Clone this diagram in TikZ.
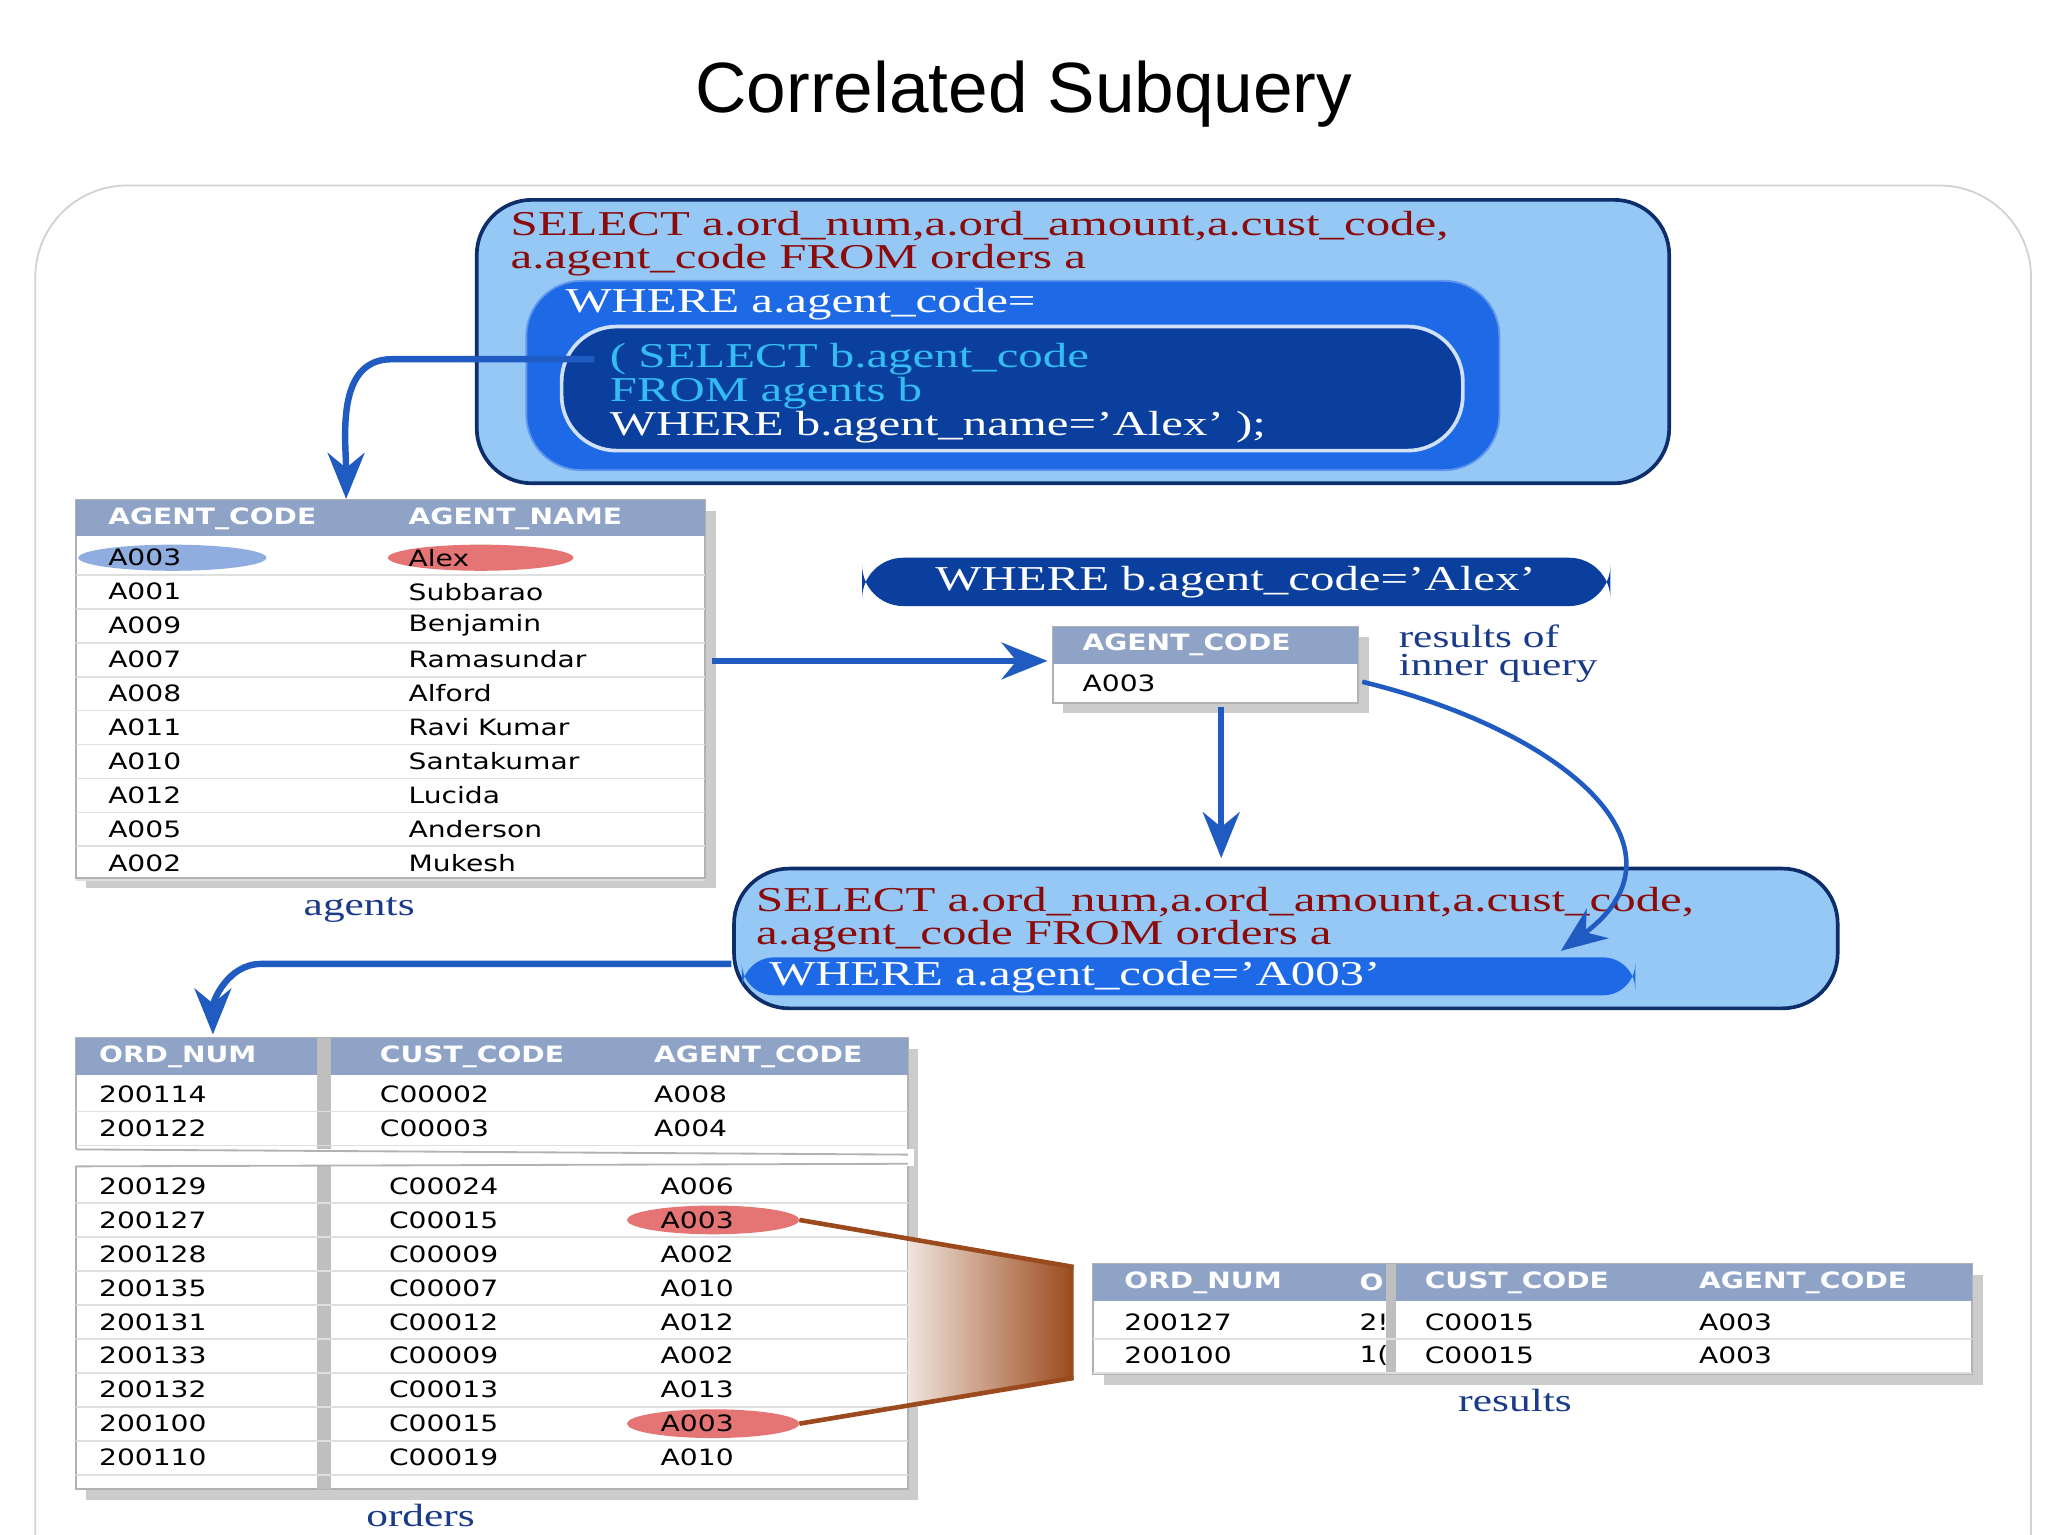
\documentclass[tikz,border=0pt]{standalone}
\usepackage{fontspec}
\setmainfont{Liberation Serif}
\newfontfamily\titlefont{Liberation Sans}
\newfontfamily\tabfont{DejaVu Sans}
\usetikzlibrary{arrows.meta,shadows}
\definecolor{lb}{HTML}{96C8F5}
\definecolor{mb}{HTML}{1E6AE6}
\definecolor{db}{HTML}{0A3F9E}
\definecolor{navy}{HTML}{0D2D6B}
\definecolor{sqlred}{HTML}{8B0A0A}
\definecolor{hdr}{HTML}{8FA3C6}
\definecolor{arr}{HTML}{1F5BC0}
\definecolor{lbl}{HTML}{1A3A8A}
\definecolor{brn}{HTML}{9A4A1C}
\tikzset{
 sql/.style={anchor=west,font=\fontsize{7.6}{8}\selectfont,xscale=1.4,inner sep=0},
 tab/.style={anchor=west,font=\tabfont\fontsize{4.9}{5}\selectfont,xscale=1.25,inner sep=0},
 th/.style={tab,text=white,font=\tabfont\bfseries\fontsize{4.9}{5}\selectfont},
 capt/.style={anchor=center,font=\fontsize{7}{8}\selectfont,xscale=1.35,text=lbl,inner sep=0},
 flow/.style={arr,line width=1.4pt,-{Stealth[length=10pt,width=8pt]}},
 tbl/.style={fill=white,draw=gray!60,drop shadow={opacity=0.4}},
}
\begin{document}
\begin{tikzpicture}[x=0.01cm,y=-0.01cm]
\useasboundingbox (0,0) rectangle (1568,1175);
\node[font=\titlefont\fontsize{15.5}{16}\selectfont] (title) at (784,72) {Correlated Subquery};
\draw[gray!35,rounded corners=20pt] (27,1180) -- (27,142) -- (1555,142) -- (1555,1180);

% top query box
\draw[navy,fill=lb,rounded corners=12pt,line width=0.8pt] (365,153) rectangle (1278,370);
\node[sql,text=sqlred] (q1) at (390,173) {SELECT a.ord\_num,a.ord\_amount,a.cust\_code,};
\node[sql,text=sqlred] (q2) at (390,199) {a.agent\_code FROM orders a};
\draw[mb!70!white,fill=mb,rounded corners=12pt] (403,215) rectangle (1148,360);
\node[sql,text=white] (q3) at (432,233) {WHERE a.agent\_code=};
\draw[white!80!mb,fill=db,rounded corners=12pt,line width=0.8pt] (430,250) rectangle (1120,345);
\node[sql,text=cyan!80!white] (q4) at (466,275) {( SELECT b.agent\_code};
\node[sql,text=cyan!80!white] (q5) at (466,301) {FROM agents b};
\node[sql,text=white] (q6) at (466,327) {WHERE b.agent\_name='Alex' );};
\coordinate (a1) at (455,275);
\coordinate (a1e) at (265,382);
\draw[flow] (a1) -- (300,275) to[out=180,in=90] (a1e);

% agents table
\fill[tbl] (58,383) rectangle (540,672);
\fill[hdr] (58,383) rectangle (540,410);
\node[th] at (82,397) {AGENT\_CODE};
\node[th] at (312,397) {AGENT\_NAME};
\fill[arr!50] (132,427) ellipse (72 and 10);
\fill[red!40!pink!80!gray] (368,427) ellipse (71 and 10);
\foreach \c/\n [count=\i from 0] in {A003/Alex,A001/Subbarao,A009/Benjamin,A007/Ramasundar,A008/Alford,A011/Ravi Kumar,A010/Santakumar,A012/Lucida,A005/Anderson,A002/Mukesh}{
  \node[tab] at (82,427+26*\i) {\c};
  \node[tab] at (312,427+26*\i) {\n};
  \draw[gray!25] (58,440+26*\i) -- (540,440+26*\i);
}
\node[capt] (agl) at (275,697) {agents};

% where oval
\fill[db,rounded corners=9pt] (660,427) rectangle (1233,464);
\node[sql,anchor=center,text=white] (ov) at (946,446) {WHERE b.agent\_code=’Alex’};

% inner result
\coordinate (a2s) at (545,506);
\fill[tbl] (806,480) rectangle (1040,538);
\fill[hdr] (806,480) rectangle (1040,508);
\node[th] at (828,494) {AGENT\_CODE};
\node[tab] at (828,523) {A003};
\coordinate (a2e) at (802,506);
\draw[flow] (a2s) -- (a2e);
\node[capt,anchor=west] at (1070,487) {results of};
\node[capt,anchor=west] at (1070,512) {inner query};
\coordinate (a3s) at (935,541);
\coordinate (a3e) at (935,657);
\draw[flow] (a3s) -- (a3e);

% middle box
\draw[navy,fill=lb,rounded corners=12pt,line width=0.8pt] (562,665) rectangle (1407,772);
\node[sql,text=sqlred] at (578,691) {SELECT a.ord\_num,a.ord\_amount,a.cust\_code,};
\node[sql,text=sqlred] at (578,717) {a.agent\_code FROM orders a};
\fill[mb,rounded corners=7pt] (568,733) rectangle (1252,762);
\node[sql,text=white] at (588,748) {WHERE a.agent\_code=’A003’};
\coordinate (a4s) at (1043,522);
\coordinate (a4e) at (1195,728);
\draw[arr,line width=1pt,-{Stealth[length=10pt,width=8pt]}] (a4s) .. controls (1200,560) and (1300,650) .. (a4e);
\coordinate (a5s) at (560,738);
\coordinate (a5e) at (163,792);
\draw[flow] (a5s) -- (200,738) to[out=180,in=90] (a5e);

% orders table
\fill[tbl] (58,795) rectangle (695,1140);
\fill[hdr] (58,795) rectangle (695,823);
\node[th] at (75,809) {ORD\_NUM};
\node[th] at (290,809) {CUST\_CODE};
\node[th] at (500,809) {AGENT\_CODE};
\draw[gray!50,line width=3pt] (248,795) -- (248,1140);
\foreach \o/\c/\a [count=\i from 0] in {200114/C00002/A008,200122/C00003/A004}{
  \node[tab] at (75,838+26*\i) {\o};\node[tab] at (290,838+26*\i) {\c};\node[tab] at (500,838+26*\i) {\a};
  \draw[gray!25] (58,851+26*\i) -- (695,851+26*\i);}
\fill[white] (50,880) rectangle (700,893);
\draw[gray!60] (58,880) -- (695,884);
\draw[gray!60] (58,893) -- (695,891);
\fill[red!40!pink!80!gray] (546,934) ellipse (66 and 11);
\fill[red!40!pink!80!gray] (546,1090) ellipse (66 and 11);
\foreach \o/\c/\a [count=\i from 0] in {200129/C00024/A006,200127/C00015/A003,200128/C00009/A002,200135/C00007/A010,200131/C00012/A012,200133/C00009/A002,200132/C00013/A013,200100/C00015/A003,200110/C00019/A010}{
  \node[tab] at (75,908+26*\i) {\o};\node[tab] at (297,908+26*\i) {\c};\node[tab] at (505,908+26*\i) {\a};
  \draw[gray!25] (58,921+26*\i) -- (695,921+26*\i);}
\node[capt] (orl) at (322,1160) {orders};

% brown funnel
\coordinate (f1) at (612,934);
\coordinate (f2) at (612,1090);
\shade[left color=brn!15,right color=brn] (695,950) -- (822,970) -- (822,1055) -- (695,1076) -- cycle;
\draw[brn,line width=1pt] (f1) -- (822,970);
\draw[brn,line width=1pt] (f2) -- (822,1055);

% results
\fill[tbl] (837,968) rectangle (1510,1052);
\fill[hdr] (837,968) rectangle (1510,996);
\node[th] at (860,982) {ORD\_NUM};
\node[th] at (1040,982) {O};
\node[th] at (1090,982) {CUST\_CODE};
\node[th] at (1300,982) {AGENT\_CODE};
\draw[gray!50,line width=2pt] (1065,968) -- (1065,1052);
\foreach \o/\p [count=\i from 0] in {200127/2!,200100/1(}{
  \node[tab] at (860,1012+26*\i) {\o};\node[tab] at (1040,1012+26*\i) {\p};
  \node[tab] at (1090,1012+26*\i) {C00015};\node[tab] at (1300,1012+26*\i) {A003};
  \draw[gray!25] (837,1025+26*\i) -- (1510,1025+26*\i);}
\node[capt] (rl) at (1160,1072) {results};
\end{tikzpicture}
\end{document}
